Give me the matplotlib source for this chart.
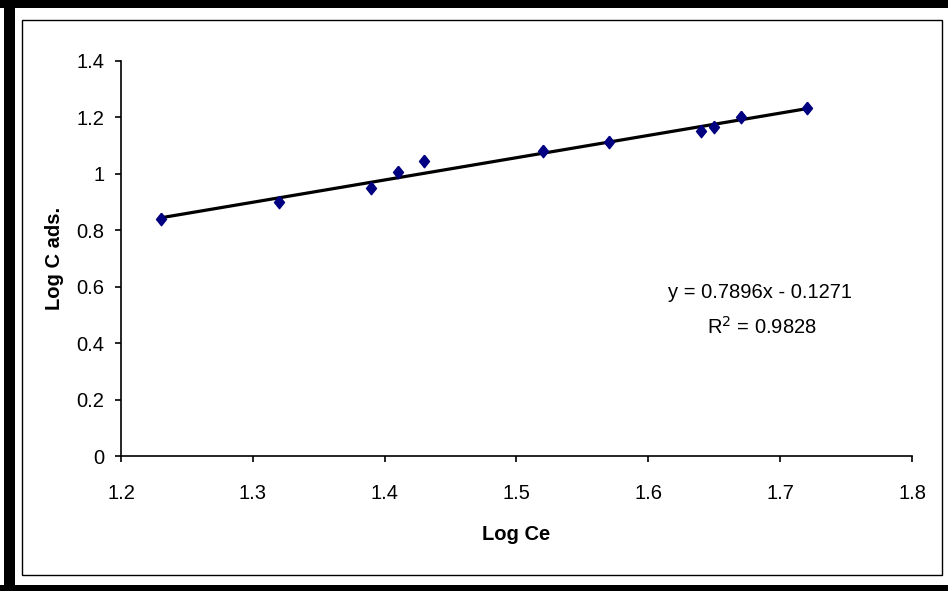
import numpy as np
import matplotlib
matplotlib.use("Agg")
import matplotlib.pyplot as plt
from matplotlib.patches import Rectangle

plt.rcParams['font.family'] = ['Liberation Sans', 'DejaVu Sans']

# data
log_ce = [1.23, 1.32, 1.39, 1.41, 1.43, 1.52, 1.57, 1.64, 1.65, 1.67, 1.72]
log_cads = [0.840, 0.901, 0.949, 1.006, 1.046, 1.081, 1.114, 1.152, 1.167, 1.203, 1.234]
slope = 0.7896
intercept = -0.1271
r2 = 0.9828

W, H = 948, 591
fig = plt.figure(figsize=(W / 100, H / 100), dpi=100)
ax = fig.add_axes([121 / W, 1 - 456 / H, (912 - 121) / W, (456 - 61) / H])

diamond = [(0, 1), (0.8, 0), (0, -1), (-0.8, 0), (0, 1)]
ax.plot(log_ce, log_cads, linestyle='none', marker=diamond, markersize=9,
        color='#000080', zorder=3)

xs = np.array([min(log_ce), max(log_ce)])
ax.plot(xs, slope * xs + intercept, color='black', linewidth=2.3, zorder=2)

ax.set_xlim(1.2, 1.8)
ax.set_ylim(0, 1.4)
ax.set_xticks(np.arange(1.2, 1.81, 0.1))
ax.set_xticklabels(['1.2', '1.3', '1.4', '1.5', '1.6', '1.7', '1.8'])
ax.set_yticks(np.arange(0, 1.41, 0.2))
ax.set_yticklabels(['0', '0.2', '0.4', '0.6', '0.8', '1', '1.2', '1.4'])

for s in ['top', 'right']:
    ax.spines[s].set_visible(False)
for s in ['left', 'bottom']:
    ax.spines[s].set_linewidth(1.2)
ax.tick_params(axis='both', direction='out', length=4, width=1.2, labelsize=14.5)
ax.tick_params(axis='x', pad=16)
ax.tick_params(axis='y', pad=8)

ax.set_xlabel('Log Ce', fontsize=14.5, fontweight='bold')
ax.xaxis.set_label_coords(0.5, (456 - 525) / (456 - 61))
ax.set_ylabel('Log C ads.', fontsize=14.5, fontweight='bold')
ax.yaxis.set_label_coords((64 - 121) / (912 - 121), 0.5)

fig.text(760 / W, 1 - 293 / H, 'y = %.4fx - %.4f' % (slope, -intercept),
         ha='center', va='center', fontsize=14.5)
fig.text(762 / W, 1 - 327 / H, r'R$^2$ = %.4f' % r2,
         ha='center', va='center', fontsize=14.5)

# outer thick frame (top, left, bottom) and inner thin frame
def px_rect(x0, y0, x1, y1, **kw):
    fig.add_artist(Rectangle((x0 / W, 1 - y1 / H), (x1 - x0) / W, (y1 - y0) / H,
                             transform=fig.transFigure, **kw))

px_rect(0, 0, W, 8, color='black', lw=0)
px_rect(4, 0, 15, H, color='black', lw=0)
px_rect(0, 585, W, H, color='black', lw=0)
px_rect(22, 20, 942, 575, fill=False, edgecolor='black', lw=1.0)

fig.savefig('out.png', dpi=100)
